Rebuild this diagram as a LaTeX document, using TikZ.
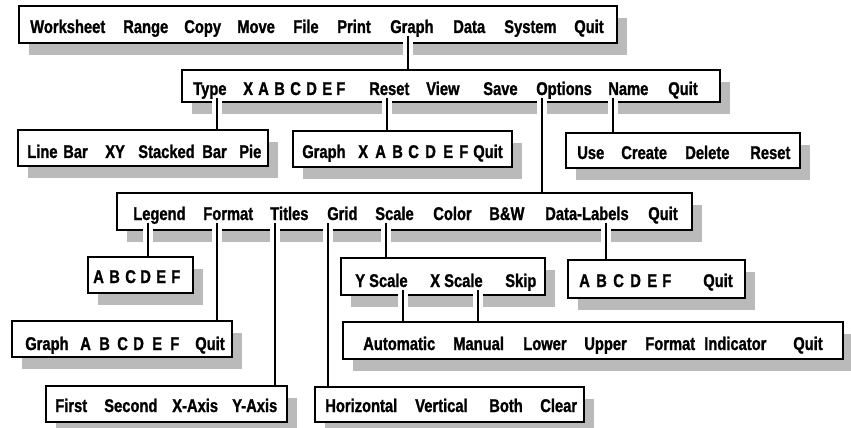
\documentclass[tikz,border=0pt]{standalone}
\usepackage{fontspec}
\newfontfamily\menufont{Liberation Sans}[UprightFont=* Bold, FakeStretch=0.8, FakeBold=1.2]
\usetikzlibrary{fit,shadows}
\tikzset{
  menubox/.style={draw, line width=1.5pt, fill=white, inner sep=0pt,
    drop shadow={shadow xshift=7.5pt, shadow yshift=-9pt, fill=black!27, opacity=1}},
  word/.style={anchor=base west, inner sep=0pt,
    font=\menufont\fontsize{13.8}{15}\selectfont},
  conn/.style={line width=2.2pt},
  halo/.style={draw=white, line width=7pt},
}
% place the entries of one menu: prefix, baseline, list of text/left-x
\newcommand\menuwords[3]{%
  \foreach \w/\x [count=\i] in {#3} \node[word] (#1-\i) at (\x,#2) {\w};}
% vertical link from an entry of a parent menu down to a child menu
\newcommand\menulink[3]{%
  \draw[halo] ([yshift=3pt]#1 |- #2.south) -- ([yshift=-10pt]#1 |- #2.south);
  \draw[conn] (#1) -- (#1 |- #3.north);}
\begin{document}
\begin{tikzpicture}[x=0.75pt, y=-0.75pt]
\useasboundingbox (0,0) rectangle (851,428);
\fill[white] (0,0) rectangle (851,428);

% ---- menu frames ----
\node[menubox, fit={(19,6) (617,43)}] (main) {};
\node[menubox, fit={(182,70) (720,102)}] (graph) {};
\node[menubox, fit={(18,130) (268,166)}] (type) {};
\node[menubox, fit={(293,131) (512,167)}] (reset) {};
\node[menubox, fit={(566,133) (800,168)}] (name) {};
\node[menubox, fit={(117,193) (692,230)}] (options) {};
\node[menubox, fit={(88,257) (193,293)}] (legend) {};
\node[menubox, fit={(341,258) (545,295)}] (scale) {};
\node[menubox, fit={(568,260) (745,298)}] (labels) {};
\node[menubox, fit={(12,321) (232,357)}] (format) {};
\node[menubox, fit={(343,322) (843,359)}] (axis) {};
\node[menubox, fit={(46,386) (287,422)}] (titles) {};
\node[menubox, fit={(315,387) (584,422)}] (grid) {};

% ---- menu entries ----
\menuwords{m}{33}{Worksheet/30, Range/123, Copy/184, Move/237, File/293,
  Print/337, Graph/390, Data/453, System/504, Quit/574}
\menuwords{g}{95}{Type/193, X/243, A/258, B/274, C/290, D/306, E/322, F/336,
  Reset/369, View/426, Save/483, Options/536, Name/608, Quit/668}
\menuwords{t}{158}{Line/27, Bar/63, XY/105, Stacked/138, Bar/202, Pie/239}
\menuwords{r}{158}{Graph/302, X/358, A/375, B/392, C/408, D/425, E/443, F/459,
  Quit/473}
\menuwords{n}{159}{Use/577, Create/621, Delete/685, Reset/750}
\menuwords{o}{220}{Legend/133, Format/203, Titles/270, Grid/327, Scale/375,
  Color/433, B\&W/489, Data-Labels/545, Quit/648}
\menuwords{l}{283}{A/93, B/109, C/125, D/140, E/156, F/171}
\menuwords{s}{287}{Y Scale/355, X Scale/430, Skip/505}
\menuwords{d}{287}{A/579, B/596, C/613, D/630, E/647, F/662, Quit/703}
\menuwords{f}{350}{Graph/25, A/80, B/99, C/117, D/133, E/152, F/170, Quit/195}
\menuwords{a}{350}{Automatic/363, Manual/453, Lower/523, Upper/584, Format/645,
  Indicator/704, Quit/793}
\menuwords{i}{412}{First/55, Second/104, X-Axis/172, Y-Axis/232}
\menuwords{h}{412}{Horizontal/325, Vertical/415, Both/489, Clear/540}

% ---- link origins under the chosen entries ----
\coordinate (cGraph) at (408,36);
\coordinate (cType) at (217,98);
\coordinate (cReset) at (387,98);
\coordinate (cOptions) at (542,98);
\coordinate (cName) at (613,98);
\coordinate (cLegend) at (148,223);
\coordinate (cFormat) at (217,223);
\coordinate (cTitles) at (275,223);
\coordinate (cGrid) at (328,223);
\coordinate (cScale) at (386,223);
\coordinate (cLabels) at (606,223);
\coordinate (cYScale) at (403,290);
\coordinate (cXScale) at (478,290);

% ---- links ----
\menulink{cGraph}{main}{graph}
\menulink{cType}{graph}{type}
\menulink{cReset}{graph}{reset}
\menulink{cOptions}{graph}{options}
\menulink{cName}{graph}{name}
\menulink{cLegend}{options}{legend}
\menulink{cFormat}{options}{format}
\menulink{cTitles}{options}{titles}
\menulink{cGrid}{options}{grid}
\menulink{cScale}{options}{scale}
\menulink{cLabels}{options}{labels}
\menulink{cYScale}{scale}{axis}
\menulink{cXScale}{scale}{axis}
\end{tikzpicture}
\end{document}
